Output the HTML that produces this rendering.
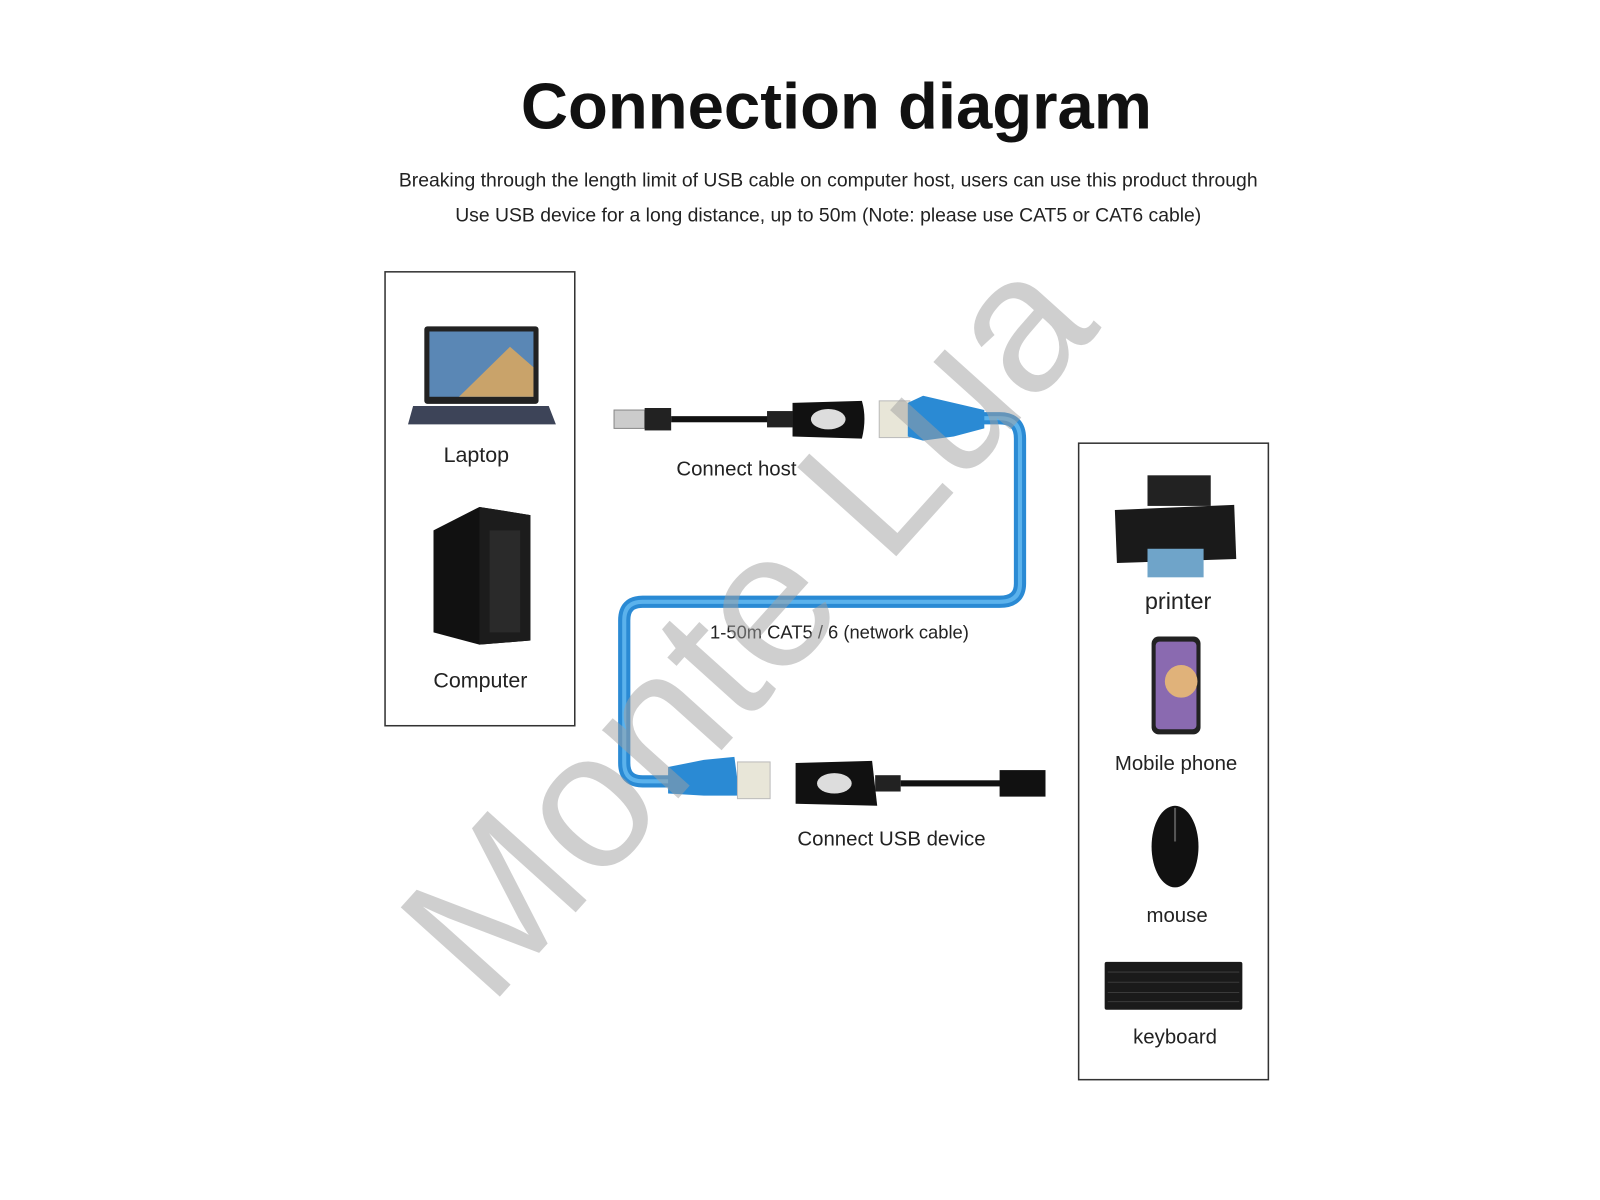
<!DOCTYPE html>
<html><head><meta charset="utf-8"><style>
html,body{margin:0;padding:0;background:#fff;}
svg{display:block;}
text{font-family:"Liberation Sans",sans-serif;}
</style></head><body>
<svg width="1600" height="1200" viewBox="0 0 1600 1200" xmlns="http://www.w3.org/2000/svg">
<rect width="1600" height="1200" fill="#fff"/>
<g transform="scale(1.02)">
<text x="820" y="126" text-anchor="middle" font-size="64" font-weight="bold" fill="#111">Connection diagram</text>
<text x="812" y="183" text-anchor="middle" font-size="19" fill="#222">Breaking through the length limit of USB cable on computer host, users can use this product through</text>
<text x="812" y="217" text-anchor="middle" font-size="19" fill="#222">Use USB device for a long distance, up to 50m (Note: please use CAT5 or CAT6 cable)</text>

<rect x="377.5" y="266.5" width="186" height="445" fill="none" stroke="#333" stroke-width="1.5"/>
<rect x="416" y="320" width="112" height="76" rx="3" fill="#222"/>
<rect x="421" y="325" width="102" height="64" fill="#5a87b5"/>
<polygon points="450,389 500,340 523,360 523,389" fill="#c9a36a"/>
<polygon points="405,398 538,398 545,416 400,416" fill="#3d4458"/>
<text x="467" y="453" text-anchor="middle" font-size="21" fill="#222">Laptop</text>
<polygon points="425,520 470,497 520,505 520,628 470,632 425,620" fill="#111"/>
<polygon points="470,497 520,505 520,628 470,632" fill="#1c1c1c"/>
<rect x="480" y="520" width="30" height="100" fill="#2a2a2a"/>
<text x="471" y="674" text-anchor="middle" font-size="21" fill="#222">Computer</text>

<rect x="1057.5" y="434.5" width="186" height="624" fill="none" stroke="#333" stroke-width="1.5"/>
<rect x="1125" y="466" width="62" height="30" fill="#222"/>
<path d="M1093,500 L1210,495 L1212,548 L1095,552 Z" fill="#1a1a1a"/>
<rect x="1125" y="538" width="55" height="28" fill="#6fa4c9"/>
<text x="1155" y="597" text-anchor="middle" font-size="23" fill="#222">printer</text>
<rect x="1129" y="624" width="48" height="96" rx="7" fill="#222"/>
<rect x="1133" y="629" width="40" height="86" rx="4" fill="#8a6ab0"/>
<circle cx="1158" cy="668" r="16" fill="#e0b27a"/>
<text x="1153" y="755" text-anchor="middle" font-size="20" fill="#222">Mobile phone</text>
<ellipse cx="1152" cy="830" rx="23" ry="40" fill="#111"/>
<line x1="1152" y1="792" x2="1152" y2="825" stroke="#555" stroke-width="2"/>
<text x="1154" y="904" text-anchor="middle" font-size="20" fill="#222">mouse</text>
<rect x="1083" y="943" width="135" height="47" rx="2" fill="#1a1a1a"/>
<g stroke="#3a3a3a" stroke-width="1">
<line x1="1086" y1="953" x2="1215" y2="953"/><line x1="1086" y1="963" x2="1215" y2="963"/><line x1="1086" y1="973" x2="1215" y2="973"/><line x1="1086" y1="982" x2="1215" y2="982"/>
</g>
<text x="1152" y="1023" text-anchor="middle" font-size="20" fill="#222">keyboard</text>

<path d="M920,410 L980,410 Q1000,410 1000,430 L1000,572 Q1000,590 980,590 L630,590 Q612,590 612,608 L612,748 Q612,766 630,766 L680,766" fill="none" stroke="#2a8ad4" stroke-width="12"/>
<path d="M920,410 L980,410 Q1000,410 1000,430 L1000,572 Q1000,590 980,590 L630,590 Q612,590 612,608 L612,748 Q612,766 630,766 L680,766" fill="none" stroke="#5bb2ec" stroke-width="4"/>
<rect x="602" y="402" width="30" height="18" fill="#ccc" stroke="#888"/>
<rect x="632" y="400" width="26" height="22" fill="#222"/>
<rect x="658" y="408" width="95" height="6" fill="#111"/>
<rect x="752" y="403" width="25" height="16" fill="#222"/>
<path d="M777,395 L845,393 Q850,410 845,430 L777,428 Z" fill="#111"/>
<ellipse cx="812" cy="411" rx="17" ry="10" fill="#ddd"/>
<rect x="862" y="393" width="30" height="36" fill="#e8e6d8" stroke="#bbb"/>
<path d="M890,395 L905,388 L935,395 L965,402 L965,420 L935,428 L905,432 L890,428 Z" fill="#2a8ad4"/>
<path d="M655,752 L690,745 L720,742 L725,780 L690,780 L655,778 Z" fill="#2a8ad4"/>
<rect x="723" y="747" width="32" height="36" fill="#e8e6d8" stroke="#bbb"/>
<path d="M780,748 L855,746 L860,790 L780,788 Z" fill="#111"/>
<ellipse cx="818" cy="768" rx="17" ry="10" fill="#ddd"/>
<rect x="858" y="760" width="25" height="16" fill="#222"/>
<rect x="883" y="765" width="100" height="6" fill="#111"/>
<rect x="980" y="755" width="45" height="26" fill="#111"/>
<text x="722" y="466" text-anchor="middle" font-size="20" fill="#222">Connect host</text>
<text x="823" y="626" text-anchor="middle" font-size="18" fill="#222">1-50m CAT5 / 6 (network cable)</text>
<text x="874" y="829" text-anchor="middle" font-size="20" fill="#222">Connect USB device</text>

<text x="0" y="0" transform="translate(780,655) rotate(-48)" text-anchor="middle" font-size="190" fill="#a0a0a0" fill-opacity="0.5">Monte Lua</text>
</g>
</svg>
</body></html>
